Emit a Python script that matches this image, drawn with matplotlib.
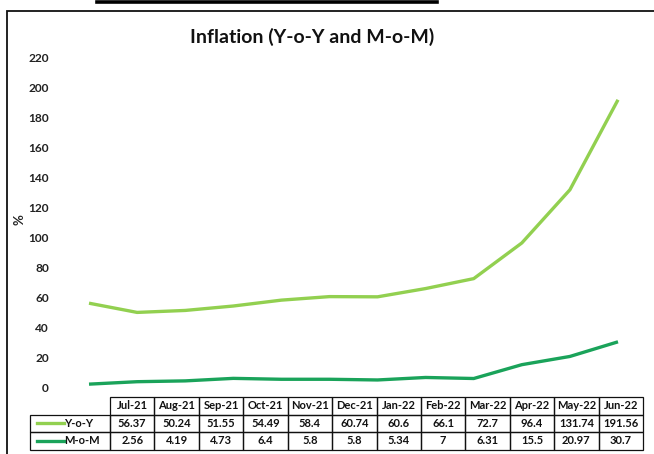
import matplotlib
matplotlib.use("Agg")
import matplotlib.pyplot as plt
from matplotlib.patches import Rectangle
from matplotlib.lines import Line2D

months = ["Jul-21", "Aug-21", "Sep-21", "Oct-21", "Nov-21", "Dec-21",
          "Jan-22", "Feb-22", "Mar-22", "Apr-22", "May-22", "Jun-22"]
yoy = [56.37, 50.24, 51.55, 54.49, 58.4, 60.74, 60.6, 66.1, 72.7, 96.4, 131.74, 191.56]
mom = [2.56, 4.19, 4.73, 6.4, 5.8, 5.8, 5.34, 7, 6.31, 15.5, 20.97, 30.7]
yoy_label = ["56.37", "50.24", "51.55", "54.49", "58.4", "60.74", "60.6", "66.1", "72.7", "96.4", "131.74", "191.56"]
mom_label = ["2.56", "4.19", "4.73", "6.4", "5.8", "5.8", "5.34", "7", "6.31", "15.5", "20.97", "30.7"]
series_names = ["Y-o-Y", "M-o-M"]
series_colors = ["#92D050", "#1AA35A"]
yticks = list(range(0, 221, 20))

W, H = 654, 454
fig = plt.figure(figsize=(W / 100, H / 100), dpi=100)
FONT = "Lato"


def fx(px):
    return px / W


def fy(py):
    return (H - py) / H


# outer frame of the chart object (right/bottom edges lie outside the image)
fig.add_artist(Rectangle((fx(7), fy(470)), fx(700), fy(11) - fy(470),
                         transform=fig.transFigure, fill=False,
                         edgecolor="#111111", linewidth=1.3))
# underline of the caption above the chart
fig.add_artist(Line2D([fx(97), fx(437)], [fy(1.5), fy(1.5)],
                      transform=fig.transFigure, color="black", linewidth=2.6))

# plot area
ax_l, ax_r, ax_t, ax_b = 60, 645, 57, 388
ax = fig.add_axes([fx(ax_l), fy(ax_b), fx(ax_r - ax_l), fy(ax_t) - fy(ax_b)])
x0_px, x11_px = 89, 618
step = (x11_px - x0_px) / 11
ax.set_xlim(-(x0_px - ax_l) / step, 11 + (ax_r - x11_px) / step)
ax.set_ylim(0, 220)
xs = list(range(len(months)))
ax.plot(xs, yoy, color=series_colors[0], linewidth=2.4, solid_capstyle="butt", clip_on=False)
ax.plot(xs, mom, color=series_colors[1], linewidth=2.4, solid_capstyle="butt", clip_on=False)
for s in ax.spines.values():
    s.set_visible(False)
ax.set_xticks([])
ax.set_yticks(yticks)
ax.set_yticklabels([str(t) for t in yticks], fontfamily=FONT, fontweight="bold",
                   fontsize=8.6, color="#222222")
ax.tick_params(axis="y", length=0, pad=8)
ax.patch.set_alpha(0)

fig.text(fx(20), fy(220), "%", rotation=90, ha="center", va="center",
         fontfamily=FONT, fontweight="bold", fontsize=9.5, color="#222222")
fig.text(fx(312), fy(37), "Inflation (Y-o-Y and M-o-M)", ha="center", va="center",
         fontfamily=FONT, fontweight="bold", fontsize=14, color="#111111")

# data table below the plot
col_left = 110
col_w = (643 - 110) / 12
leg_left = 30
row_tops = [397, 414.5, 432]
row_h = 17.5
lw = 0.9
tsize = 8


def cell(x, y, w, h):
    fig.add_artist(Rectangle((fx(x), fy(y + h)), fx(w), fy(y) - fy(y + h),
                             transform=fig.transFigure, fill=False,
                             edgecolor="#111111", linewidth=lw))


# header row
for i, m in enumerate(months):
    x = col_left + i * col_w
    cell(x, row_tops[0], col_w, row_h)
    fig.text(fx(x + col_w / 2), fy(row_tops[0] + row_h / 2), m, ha="center", va="center",
             fontfamily=FONT, fontweight="bold", fontsize=tsize, color="#111111")

rows = [yoy_label, mom_label]
for r, (labels, name, col) in enumerate(zip(rows, series_names, series_colors)):
    y = row_tops[r + 1]
    cell(leg_left, y, col_left - leg_left, row_h)
    fig.add_artist(Line2D([fx(37), fx(64)], [fy(y + row_h / 2)] * 2,
                          transform=fig.transFigure, color=col, linewidth=2.4))
    fig.text(fx(64), fy(y + row_h / 2), name, ha="left", va="center",
             fontfamily=FONT, fontweight="bold", fontsize=tsize, color="#111111")
    for i, v in enumerate(labels):
        x = col_left + i * col_w
        cell(x, y, col_w, row_h)
        fig.text(fx(x + col_w / 2), fy(y + row_h / 2), v, ha="center", va="center",
                 fontfamily=FONT, fontweight="bold", fontsize=tsize, color="#111111")

fig.savefig("out.png", dpi=100)
